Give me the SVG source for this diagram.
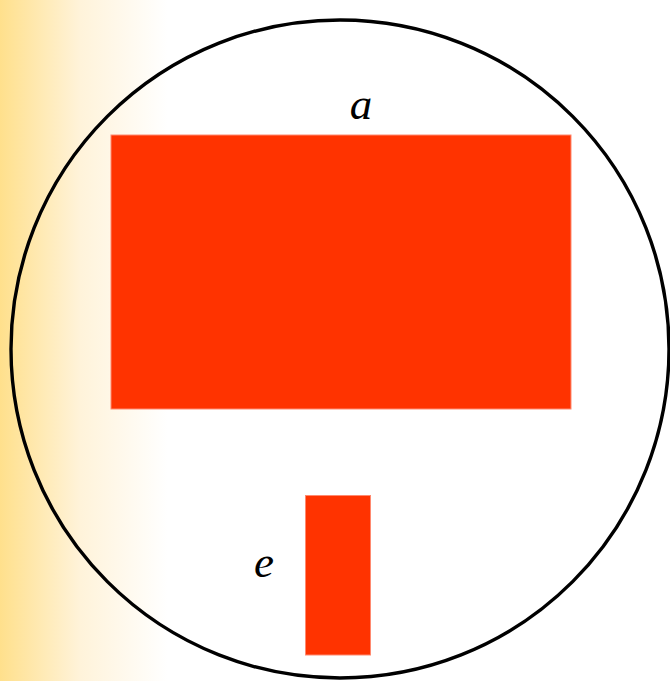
<svg xmlns="http://www.w3.org/2000/svg" width="670" height="681" viewBox="0 0 670 681">
<defs>
<linearGradient id="bg" x1="0" y1="0" x2="670" y2="0" gradientUnits="userSpaceOnUse">
<stop offset="0" stop-color="#FFE08C"/>
<stop offset="0.12" stop-color="#FFF3DA"/>
<stop offset="0.25" stop-color="#FFFFFF"/>
</linearGradient>
<style>
.blk{fill:#FF3300;stroke:#FF8A70;stroke-width:1}
.lbl{font-family:"Liberation Serif",serif;font-style:italic;font-size:45px;fill:#000;text-anchor:middle}
</style>
</defs>
<rect x="0" y="0" width="670" height="681" fill="url(#bg)"/>
<g id="boundary"><circle cx="340" cy="349" r="329" fill="none" stroke="#000" stroke-width="3.4"/></g>
<g id="node-a">
<rect class="blk" x="111" y="135" width="460" height="274"/>
<text class="lbl" x="361" y="119">a</text>
</g>
<g id="node-e">
<rect class="blk" x="305.5" y="495.5" width="65" height="159.5"/>
<text class="lbl" x="264" y="577">e</text>
</g>
<g id="connectors"/>
</svg>
